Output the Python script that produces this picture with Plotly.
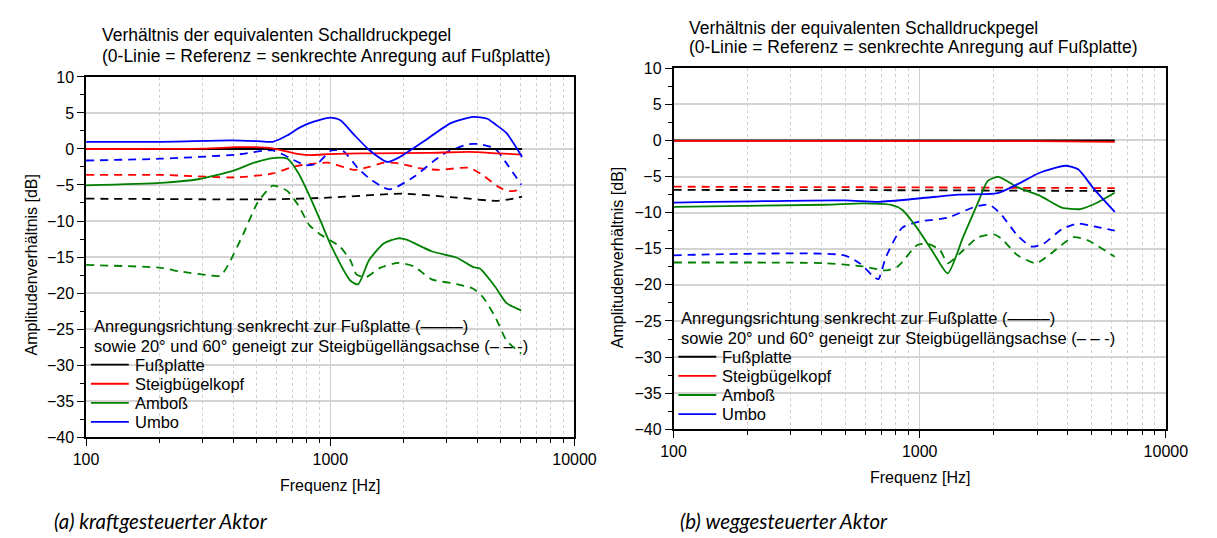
import plotly.graph_objects as go

# page is rendered inside <body> with the default 8px margin -> compensate
OFF = 8
W, H = 1217 - OFF, 538 - OFF

# ---------------- data: panel (a) kraftgesteuerter Aktor ----------------
a_fuss_f = [100, 6100]
a_fuss_v = [0, 0]
a_fuss_d_f = [100, 409, 581, 982, 1660, 1980, 3300, 4750, 5400, 6100]
a_fuss_d_v = [-6.9, -7.0, -7.0, -6.75, -6.3, -6.2, -6.75, -7.2, -7.0, -6.6]

a_steig_f = [100, 300, 410, 490, 580, 715, 820, 980, 1170, 1500, 2500, 3700, 4800, 6100]
a_steig_v = [0, 0.05, 0.25, 0.25, 0.1, -0.6, -0.85, -0.72, -0.63, -0.6, -0.55, -0.4, -0.6, -0.77]
a_steig_d_f = [100, 203, 409, 581, 715, 822, 982, 1250, 1440, 1660, 1900, 2360, 2800, 3700, 4200, 4900, 5400, 6100]
a_steig_d_v = [-3.6, -3.6, -3.95, -3.4, -2.4, -2.1, -1.9, -2.9, -2.5, -1.9, -2.0, -2.7, -2.9, -2.6, -3.6, -5.3, -5.85, -5.6]

a_amb_f = [100, 203, 288, 396, 488, 581, 668, 742, 822, 915, 1010, 1210, 1300, 1440, 1660, 1900, 2050, 2600, 3300, 3850, 4100, 4750, 5270, 6050]
a_amb_v = [-5.05, -4.7, -4.2, -3.06, -1.9, -1.26, -1.35, -3.4, -6.5, -10.1, -13.5, -18.3, -18.8, -15.45, -13.1, -12.4, -12.6, -14.2, -15.1, -16.4, -16.6, -19.2, -21.4, -22.4]
a_amb_d_f = [100, 203, 242, 332, 356, 382, 439, 505, 581, 668, 742, 822, 915, 1090, 1210, 1280, 1400, 1600, 1900, 2200, 2600, 3300, 3850, 4200, 4750, 5270, 6050]
a_amb_d_v = [-16.1, -16.5, -17.0, -17.6, -17.6, -16.1, -11.9, -7.4, -5.1, -5.85, -7.9, -10.6, -11.9, -13.5, -15.5, -17.4, -17.8, -16.5, -15.8, -16.3, -18.1, -18.75, -19.4, -20.5, -23.4, -26.6, -28.4]

a_umbo_f = [100, 200, 396, 500, 581, 668, 742, 822, 1000, 1100, 1250, 1440, 1716, 1907, 2400, 3116, 3850, 4400, 4752, 5270, 6100]
a_umbo_v = [1.0, 1.0, 1.2, 1.1, 1.0, 1.9, 2.9, 3.6, 4.35, 4.0, 2.0, -0.1, -1.8, -1.2, 1.0, 3.6, 4.45, 4.2, 3.4, 2.2, -1.1]
a_umbo_d_f = [100, 203, 409, 581, 715, 795, 887, 1010, 1130, 1300, 1440, 1660, 1750, 1840, 2220, 2620, 3000, 3700, 4100, 4750, 5270, 6050]
a_umbo_d_v = [-1.6, -1.35, -0.8, -0.2, -1.6, -2.25, -2.0, -0.2, -0.3, -2.7, -4.05, -5.4, -5.6, -5.4, -3.8, -1.8, -0.45, 0.68, 0.68, 0.0, -2.0, -4.95]

# ---------------- data: panel (b) weggesteuerter Aktor ----------------
b_fuss_f = [100, 6200]
b_fuss_v = [0, 0]
b_fuss_d_f = [100, 1000, 6200]
b_fuss_d_v = [-6.85, -6.9, -7.0]

b_steig_f = [100, 3000, 6200]
b_steig_v = [-0.05, -0.1, -0.2]
b_steig_d_f = [100, 1000, 6200]
b_steig_d_v = [-6.4, -6.5, -6.6]

b_amb_f = [100, 414, 590, 760, 848, 975, 1130, 1300, 1500, 1730, 1890, 2090, 2500, 3060, 3780, 4500, 5200, 6200]
b_amb_v = [-9.2, -8.9, -8.7, -8.9, -9.6, -12.1, -15.4, -18.4, -13.4, -8.5, -5.6, -5.05, -6.5, -7.6, -9.3, -9.5, -8.7, -7.25]
b_amb_d_f = [100, 414, 590, 730, 815, 975, 1080, 1210, 1300, 1450, 1730, 2000, 2150, 2500, 2970, 3400, 4200, 4800, 6200]
b_amb_d_v = [-16.9, -17.0, -17.45, -18.0, -17.45, -14.5, -14.3, -15.2, -17.0, -15.7, -13.4, -13.0, -13.6, -15.9, -17.0, -15.7, -13.4, -13.8, -16.1]

b_umbo_f = [100, 494, 682, 1010, 1440, 2070, 2500, 3060, 3900, 4400, 5100, 6200]
b_umbo_v = [-8.6, -8.3, -8.5, -8.0, -7.5, -7.3, -6.05, -4.5, -3.5, -4.0, -6.7, -9.9]
b_umbo_d_f = [100, 494, 570, 657, 680, 730, 848, 1010, 1300, 1670, 1920, 2150, 2500, 2850, 3180, 3780, 4400, 5100, 6200]
b_umbo_d_v = [-15.9, -15.9, -17.0, -19.0, -19.2, -16.1, -12.1, -11.2, -10.7, -9.2, -8.9, -10.3, -13.2, -14.7, -14.3, -12.3, -11.5, -11.9, -12.5]

series_names = ["Fußplatte", "Steigbügelkopf", "Amboß", "Umbo"]
series_colors = ["#000000", "#ff0000", "#008000", "#0000ff"]

x_major = [100, 1000, 10000]
x_minor = [200, 300, 400, 500, 600, 700, 800, 900,
           2000, 3000, 4000, 5000, 6000, 7000, 8000, 9000]
y_ticks = list(range(-40, 11, 5))

title_lines = ["Verhältnis der equivalenten Schalldruckpegel",
               "(0-Linie = Referenz = senkrechte Anregung auf Fußplatte)"]
legend_head = ["Anregungsrichtung senkrecht zur Fußplatte (——–)",
               "sowie 20° und 60° geneigt zur Steigbügellängsachse (– – -)"]
captions = ["(a) kraftgesteuerter Aktor", "(b) weggesteuerter Aktor"]
x_title = "Frequenz [Hz]"
y_title = "Amplitudenverhältnis [dB]"

# page-pixel layout of the two panels (measured on the reference)
panels = [
    dict(series=[(a_fuss_f, a_fuss_v, a_fuss_d_f, a_fuss_d_v),
                 (a_steig_f, a_steig_v, a_steig_d_f, a_steig_d_v),
                 (a_amb_f, a_amb_v, a_amb_d_f, a_amb_d_v),
                 (a_umbo_f, a_umbo_v, a_umbo_d_f, a_umbo_d_v)],
         px=(75, 578), py=(71, 443), title_y=(28, 49), ytitle=(19, 265),
         xtitle_y=493, cap_x=40),
    dict(series=[(b_fuss_f, b_fuss_v, b_fuss_d_f, b_fuss_d_v),
                 (b_steig_f, b_steig_v, b_steig_d_f, b_steig_d_v),
                 (b_amb_f, b_amb_v, b_amb_d_f, b_amb_d_v),
                 (b_umbo_f, b_umbo_v, b_umbo_d_f, b_umbo_d_v)],
         px=(680, 1187), py=(62, 435), title_y=(20, 40), ytitle=(623, 258),
         xtitle_y=485, cap_x=685),
]
CAP_Y = 530

FONT = "Liberation Sans, Arial, sans-serif"

def fx(p):
    return (p - OFF) / W

def fy(p):
    return 1 - (p - OFF) / H

fig = go.Figure()
layout = dict(width=W, height=H, margin=dict(l=0, r=0, t=0, b=0), autosize=False,
              paper_bgcolor="white", plot_bgcolor="white", showlegend=False,
              font=dict(family=FONT, size=16, color="#000"))
annotations = []
shapes = []

def txt(x, y, s, size=16, xanchor="left", family=FONT, angle=0):
    annotations.append(dict(xref="paper", yref="paper", x=fx(x), y=fy(y),
                            xanchor=xanchor, yanchor="middle", showarrow=False,
                            text=s, textangle=angle,
                            font=dict(family=family, size=size, color="#000")))

for i, p in enumerate(panels):
    sfx = "" if i == 0 else str(i + 1)
    xa, ya = "x" + sfx, "y" + sfx
    for (f, v, fd, vd), c in zip(p["series"], series_colors):
        fig.add_trace(go.Scatter(x=fd, y=vd, xaxis=xa, yaxis=ya, mode="lines",
                                 line=dict(color=c, width=1.8, dash="8px,6px",
                                           shape="spline", smoothing=0.6)))
    for (f, v, fd, vd), c in zip(p["series"], series_colors):
        fig.add_trace(go.Scatter(x=f, y=v, xaxis=xa, yaxis=ya, mode="lines",
                                 line=dict(color=c, width=1.8,
                                           shape="spline", smoothing=0.6)))
    x0, x1 = p["px"]
    y0, y1 = p["py"]
    layout["xaxis" + sfx] = dict(
        type="log", range=[2, 4], domain=[fx(x0), fx(x1)], anchor=ya,
        tickvals=x_major, ticktext=[str(t) for t in x_major],
        ticks="outside", ticklen=7, tickwidth=1.2, tickcolor="#000",
        showline=True, linecolor="#000", linewidth=1.5, mirror=True,
        showgrid=True, gridcolor="#cfcfcf", gridwidth=1,
        minor=dict(tickvals=x_minor, ticks="outside", ticklen=4, tickcolor="#000",
                   showgrid=True, gridcolor="#cfcfcf", griddash="dot", gridwidth=1),
        tickfont=dict(family=FONT, size=16), zeroline=False,
    )
    layout["yaxis" + sfx] = dict(
        range=[-40, 10], domain=[fy(y1), fy(y0)], anchor=xa,
        tickvals=y_ticks, ticks="outside", ticklen=7, tickwidth=1.2, tickcolor="#000",
        showline=True, linecolor="#000", linewidth=1.5, mirror=True,
        showgrid=True, gridcolor="#d3d3d3", gridwidth=1.5,
        minor=dict(dtick=2.5, tick0=0, ticks="outside", ticklen=4, tickcolor="#000",
                   showgrid=False),
        tickfont=dict(family=FONT, size=16), zeroline=False,
    )
    # chart title (two lines)
    txt(x0 + 14, p["title_y"][0], title_lines[0], size=17.5)
    txt(x0 + 14, p["title_y"][1], title_lines[1], size=17.5)
    # axis titles
    txt((x0 + x1) / 2, p["xtitle_y"], x_title, size=16, xanchor="center")
    txt(p["ytitle"][0], p["ytitle"][1], y_title, size=16, xanchor="center", angle=-90)
    # legend block
    pdb = (y1 - y0) / 50.0
    def ypx(db):
        return y0 + (10 - db) * pdb
    hx = x0 + 6
    for s, db in zip(legend_head, [-24.6, -27.3]):
        txt(hx, ypx(db), s, size=16.5)
    for name, c, db in zip(series_names, series_colors, [-29.95, -32.6, -35.25, -37.9]):
        yy = ypx(db)
        shapes.append(dict(type="line", xref="paper", yref="paper",
                           x0=fx(hx - 1), x1=fx(hx + 38), y0=fy(yy), y1=fy(yy),
                           line=dict(color=c, width=1.8)))
        txt(hx + 42, yy, name, size=16.5)
    # caption
    txt(p["cap_x"], CAP_Y, "<i>" + captions[i] + "</i>", size=20.5,
        family="Lato, Open Sans, sans-serif")

layout["annotations"] = annotations
layout["shapes"] = shapes
fig.update_layout(**layout)
fig.write_html("out.html")
